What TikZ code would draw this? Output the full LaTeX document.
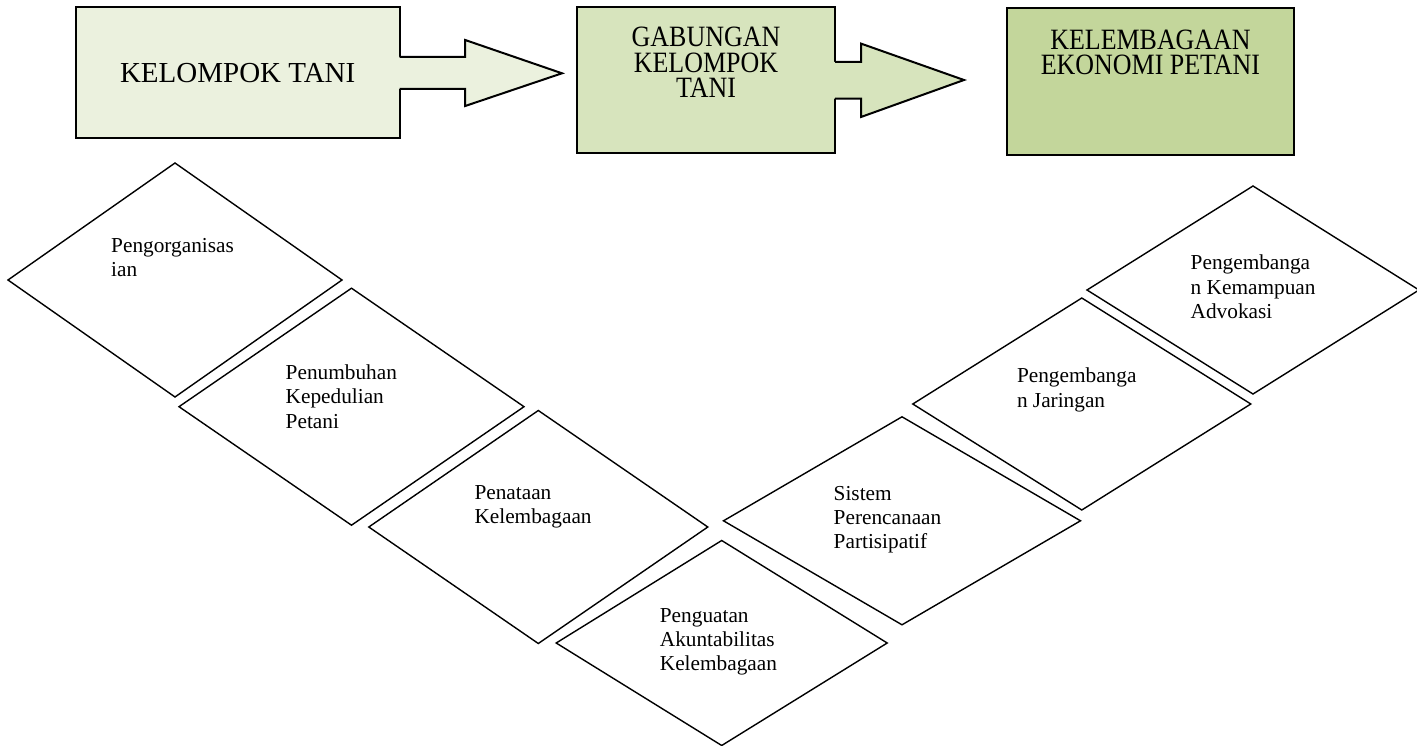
\documentclass[tikz,border=0pt]{standalone}
\usepackage{fontspec}
\setmainfont{Liberation Serif}
\newfontfamily\boxfont{Liberation Serif}[FakeStretch=0.88]
\usetikzlibrary{shapes.geometric,positioning,calc}

\definecolor{greenA}{HTML}{EBF1DE}
\definecolor{greenB}{HTML}{D7E4BD}
\definecolor{greenC}{HTML}{C3D69B}

\tikzset{
  box/.style={draw=black, line width=2pt, inner sep=0pt, outer sep=0pt},
  boxtext/.style={inner sep=0pt, align=center, font=\boxfont\fontsize{29.5}{25.7}\selectfont},
  dia/.style={draw=black, diamond, line width=1.4pt, inner sep=0pt, outer sep=0pt},
  dtext/.style={inner sep=0pt, anchor=north west, align=left, font=\fontsize{21.3}{24.3}\selectfont}
}

\begin{document}
\begin{tikzpicture}[x=1pt,y=-1pt]
    \useasboundingbox (0,0) rectangle (1417,746);

    % top boxes
    \node[box, fill=greenA, minimum width=324pt, minimum height=131pt, font=\fontsize{29}{30}\selectfont] (kt) at (237.7,73) {KELOMPOK TANI};
    \node[box, fill=greenB, minimum width=258pt, minimum height=146pt] (gk) at (706,80.3) {};
    \node[box, fill=greenC, minimum width=287pt, minimum height=146.7pt] (kep) at (1150.5,81.7) {};
    \node[boxtext, below=19.4pt of gk.north] (gkt) {GABUNGAN\\KELOMPOK\\TANI};
    \node[boxtext, below=21pt of kep.north] (kept) {KELEMBAGAAN\\EKONOMI PETANI};

    % block arrows
    \fill[greenA] ($(kt.east)+(-1.5,-16)$) -- ($(kt.east)+(65.5,-16)$) -- ($(kt.east)+(65.5,-33)$)
        -- ($(gk.west)+(-15,-7)$) -- ($(kt.east)+(65.5,33)$) -- ($(kt.east)+(65.5,16)$) -- ($(kt.east)+(-1.5,16)$) -- cycle;
    \draw[line width=2pt, line join=miter] ($(kt.east)+(0,-16)$) -- ($(kt.east)+(65.5,-16)$) -- ($(kt.east)+(65.5,-33)$)
        -- ($(gk.west)+(-15,-7)$) -- ($(kt.east)+(65.5,33)$) -- ($(kt.east)+(65.5,16)$) -- ($(kt.east)+(0,16)$);
    \fill[greenB] ($(gk.east)+(-1.5,-18.3)$) -- ($(gk.east)+(26,-18.3)$) -- ($(gk.east)+(26,-36.7)$)
        -- ($(kep.west)+(-43,-1.7)$) -- ($(gk.east)+(26,36.7)$) -- ($(gk.east)+(26,18.3)$) -- ($(gk.east)+(-1.5,18.3)$) -- cycle;
    \draw[line width=2pt, line join=miter] ($(gk.east)+(0,-18.3)$) -- ($(gk.east)+(26,-18.3)$) -- ($(gk.east)+(26,-36.7)$)
        -- ($(kep.west)+(-43,-1.7)$) -- ($(gk.east)+(26,36.7)$) -- ($(gk.east)+(26,18.3)$) -- ($(gk.east)+(0,18.3)$);

    % diamonds
    \node[dia, minimum width=334pt, minimum height=234pt] (org) at (175,280) {};
    \node[dia, minimum width=345pt, minimum height=237pt] (tumbuh) at (351.5,406.7) {};
    \node[dia, minimum width=339pt, minimum height=233pt] (tata) at (538.3,527) {};
    \node[dia, minimum width=331pt, minimum height=205pt] (kuat) at (721.7,643) {};
    \node[dia, minimum width=357pt, minimum height=208pt] (rencana) at (902,520.8) {};
    \node[dia, minimum width=338pt, minimum height=212pt] (jaring) at (1081.8,404) {};
    \node[dia, minimum width=332pt, minimum height=208pt] (advokasi) at (1253,290) {};

    \node[dtext] (orgt) at ($(org)+(-64,-42)$) {Pengorganisas\\ian};
    \node[dtext] (tumbuht) at ($(tumbuh)+(-66,-42)$) {Penumbuhan\\Kepedulian\\Petani};
    \node[dtext] (tatat) at ($(tata)+(-64,-42)$) {Penataan\\Kelembagaan};
    \node[dtext] (kuatt) at ($(kuat)+(-62,-35)$) {Penguatan\\Akuntabilitas\\Kelembagaan};
    \node[dtext] (rencanat) at ($(rencana)+(-68.5,-35)$) {Sistem\\Perencanaan\\Partisipatif};
    \node[dtext] (jaringt) at ($(jaring)+(-65,-36)$) {Pengembanga\\n Jaringan};
    \node[dtext] (advokasit) at ($(advokasi)+(-62.5,-35)$) {Pengembanga\\n Kemampuan\\Advokasi};
\end{tikzpicture}
\end{document}
